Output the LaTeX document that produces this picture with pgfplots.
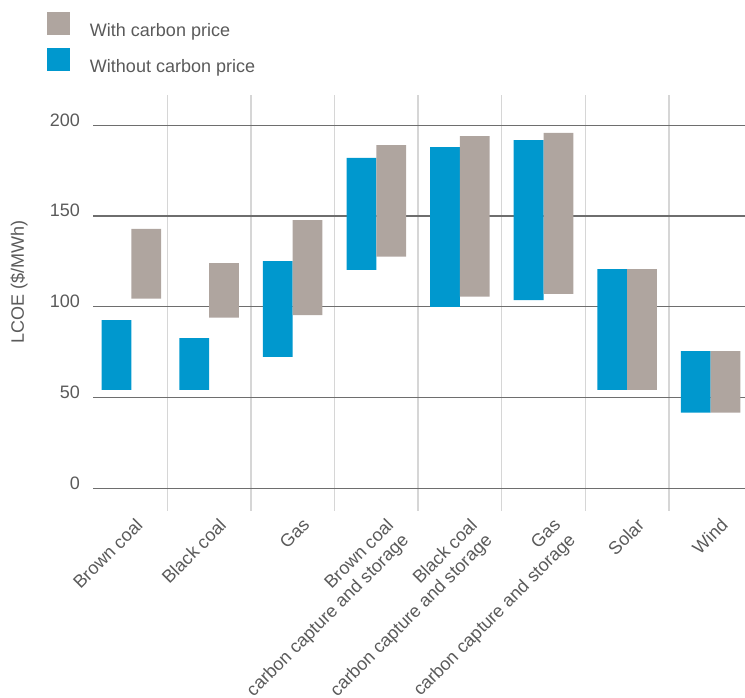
\documentclass[border=0pt]{standalone}
\usepackage{fontspec}
\setmainfont{Liberation Sans}
\usepackage{pgfplots}
\usepackage{pgfplotstable}
\pgfplotsset{compat=1.18}
\definecolor{cblue}{HTML}{0098CE}
\definecolor{cgray}{HTML}{AFA59F}
\definecolor{txt}{HTML}{5A5A5A}
\definecolor{gridd}{HTML}{6E6E6E}
\definecolor{sep}{HTML}{D6D6D6}
\newcommand\fs{\fontsize{18}{21}\selectfont}
\pgfplotstableread{
x     bl     bh     gl     gh
0.07  54.3   92.7   104.5  142.9
1     54.3   82.8   94.0   124.1
2     72.5   125.2  95.5   147.8
3     120.4  182.0  127.6  189.1
4     100.0  188.0  105.6  194.1
5     103.7  191.9  107.2  195.8
6     54.3   120.8  54.3   120.8
7     41.7   75.6   41.7   75.6
}\data
\begin{document}
\begin{tikzpicture}
\path[use as bounding box] (0pt,0pt) rectangle (745pt,697pt);
\begin{axis}[
  at={(93.3pt,186.3pt)}, anchor=south west,
  scale only axis, width=651.7pt, height=415.7pt,
  xmin=-0.385, xmax=7.41, ymin=-12.3, ymax=216.7,
  ybar stacked, stack negative=on previous, bar width=0.356,
  axis line style={draw=none}, tick style={draw=none},
  major tick length=0pt, minor tick length=0pt,
  ytick={0,50,100,150,200},
  ymajorgrids, major grid style={color=gridd, line width=1.3pt},
  xtick={0,...,7},
  minor xtick={0.5,1.5,2.5,3.5,4.5,5.5,6.5},
  xminorgrids, minor grid style={color=sep, line width=1.3pt},
  /pgf/number format/assume math mode=true,
  yticklabel style={font=\fs, text=txt, anchor=base east, inner sep=0pt, xshift=-13.3pt, yshift=-0.7pt},
  xticklabels={Brown coal, Black coal, Gas, {Brown coal\\carbon capture and storage}, {Black coal\\carbon capture and storage}, {Gas\\carbon capture and storage}, Solar, Wind},
  xticklabel style={font=\fs, text=txt, align=right, inner sep=0pt, anchor=north east, xshift=9pt, yshift=-6.5pt, rotate=45},
  ylabel={LCOE (\$/MWh)},
  every axis y label/.style={at={(axis description cs:0,0.551)}, xshift=-74.1pt, rotate=90, anchor=center, font=\fs, text=txt},
  legend style={at={(axis description cs:0,1)}, anchor=north west, xshift=-46.6pt, yshift=83.3pt,
    draw=none, fill=none, inner sep=0pt, outer sep=0pt, font=\fs, text=txt,
    nodes={inner sep=0pt}, column sep=20pt, row sep=10.5pt},
  legend cell align=left,
]
\addplot[draw=none, fill=none, bar shift=0.178, forget plot] table[x=x, y=gl]{\data};
\addplot[draw=none, fill=cgray, bar shift=0.178,
  legend image code/.code={\fill[cgray] (0pt,-4.65pt) rectangle (23.3pt,18.65pt);}]
  table[x=x, y expr=\thisrow{gh}-\thisrow{gl}]{\data};
\addlegendentry{With carbon price}
\addplot[draw=none, fill=none, bar shift=-0.178, forget plot] table[x=x, y expr=\thisrow{bl}-\thisrow{gh}]{\data};
\addplot[draw=none, fill=cblue, bar shift=-0.178,
  legend image code/.code={\fill[cblue] (0pt,-4.65pt) rectangle (23.3pt,18.65pt);}]
  table[x=x, y expr=\thisrow{bh}-\thisrow{bl}]{\data};
\addlegendentry{Without carbon price}
\end{axis}
\end{tikzpicture}
\end{document}
